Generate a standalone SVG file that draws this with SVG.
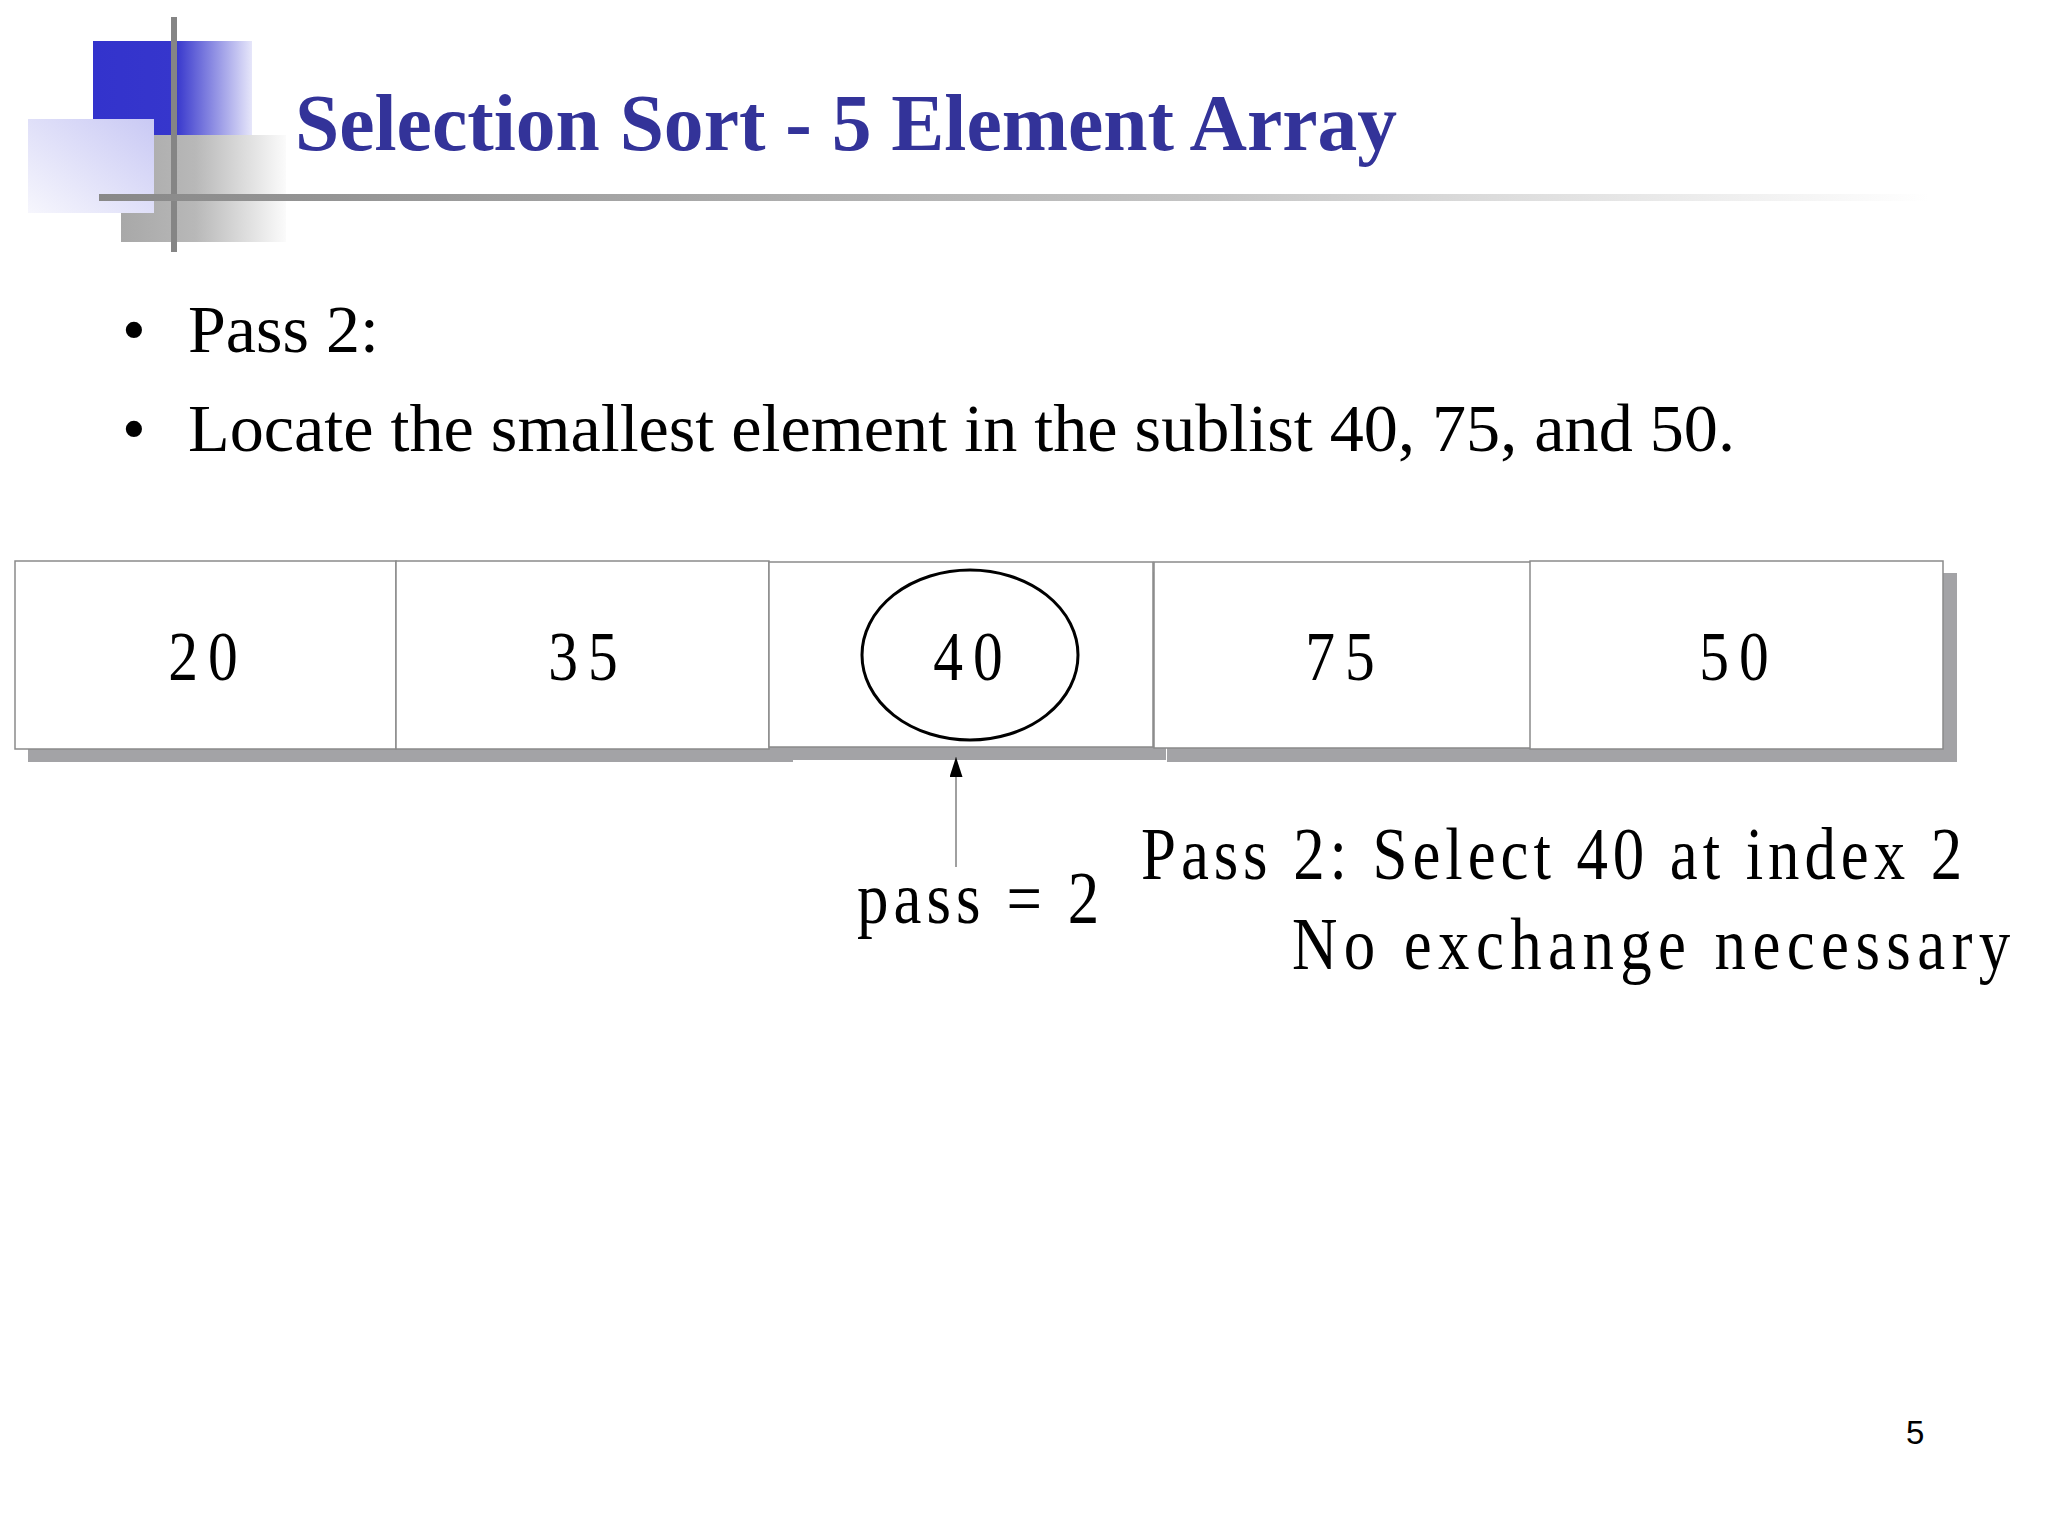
<svg xmlns="http://www.w3.org/2000/svg" width="2048" height="1536" viewBox="0 0 2048 1536">
  <defs>
    <linearGradient id="gBlue" x1="0" y1="0" x2="1" y2="0">
      <stop offset="0" stop-color="#3333cc"/>
      <stop offset="0.52" stop-color="#3636cc"/>
      <stop offset="1" stop-color="#e6e6fa"/>
    </linearGradient>
    <linearGradient id="gLav" x1="1" y1="0" x2="0" y2="1">
      <stop offset="0" stop-color="#c9c9f4"/>
      <stop offset="1" stop-color="#f6f6fd"/>
    </linearGradient>
    <linearGradient id="gGray" x1="0" y1="0" x2="1" y2="0">
      <stop offset="0" stop-color="#a8a8a8"/>
      <stop offset="0.45" stop-color="#b8b8b8"/>
      <stop offset="1" stop-color="#fbfbfb"/>
    </linearGradient>
    <linearGradient id="gLine" x1="0" y1="0" x2="1" y2="0">
      <stop offset="0" stop-color="#888888"/>
      <stop offset="0.6" stop-color="#c4c4c4"/>
      <stop offset="1" stop-color="#ffffff"/>
    </linearGradient>
    <marker id="arrowHead" viewBox="0 0 20 13" refX="20" refY="6.5" markerWidth="20" markerHeight="13" markerUnits="userSpaceOnUse" orient="auto">
      <path d="M0,0 L20,6.5 L0,13 Z" fill="#000000"/>
    </marker>
  </defs>
  <style>
    .title { font-family: "Liberation Serif", "Times New Roman", serif; font-weight: bold; font-size: 80px; fill: #333399; }
    .bullet { font-family: "Liberation Serif", "Times New Roman", serif; font-size: 68px; fill: #000000; }
    .cell { fill: #ffffff; stroke: #8a8a8a; stroke-width: 1.5; }
    .shadow { fill: #a3a3a6; stroke: none; }
    .num { font-family: "Liberation Serif", "Times New Roman", serif; font-size: 70px; fill: #000000; text-anchor: middle; }
    .lbl { font-family: "Liberation Serif", "Times New Roman", serif; font-size: 74px; fill: #000000; }
    .pg { font-family: "Liberation Sans", Arial, sans-serif; font-size: 33px; fill: #000000; }
  </style>

  <rect width="2048" height="1536" fill="#ffffff"/>

  <g id="decoration">
    <rect x="93" y="41" width="159" height="94" fill="url(#gBlue)"/>
    <rect x="121" y="135" width="165" height="107" fill="url(#gGray)"/>
    <rect x="28" y="119" width="126" height="94" fill="url(#gLav)"/>
    <rect x="171" y="17" width="6" height="235" fill="#858585"/>
    <rect x="99" y="194" width="1830" height="7" fill="url(#gLine)"/>
  </g>

  <g id="title">
    <text class="title" x="295" y="150" textLength="1102" lengthAdjust="spacingAndGlyphs">Selection Sort - 5 Element Array</text>
  </g>

  <g id="bullets">
    <text class="bullet" x="122" y="352" font-size="60">•</text>
    <text class="bullet" x="188" y="352">Pass 2:</text>
    <text class="bullet" x="122" y="451" font-size="60">•</text>
    <text class="bullet" x="188" y="451" textLength="1547" lengthAdjust="spacingAndGlyphs">Locate the smallest element in the sublist 40, 75, and 50.</text>
  </g>

  <g id="shadows">
    <rect class="shadow" x="28" y="574" width="381" height="188"/>
    <rect class="shadow" x="409" y="574" width="384" height="188"/>
    <rect class="shadow" x="782" y="572" width="384" height="188"/>
    <rect class="shadow" x="1167" y="573" width="377" height="189"/>
    <rect class="shadow" x="1544" y="573" width="413" height="189"/>
  </g>

  <g id="cell0">
    <rect class="cell" x="15" y="561" width="381" height="188"/>
    <text class="num" transform="translate(203,680) scale(0.85,1)" x="0" y="0" textLength="82" lengthAdjust="spacing">20</text>
  </g>
  <g id="cell1">
    <rect class="cell" x="396" y="561" width="373" height="188"/>
    <text class="num" transform="translate(583,680) scale(0.85,1)" x="0" y="0" textLength="82" lengthAdjust="spacing">35</text>
  </g>
  <g id="cell2">
    <rect class="cell" x="769" y="562" width="384" height="185"/>
    <ellipse cx="970" cy="655" rx="108" ry="85" fill="none" stroke="#000000" stroke-width="3"/>
    <text class="num" transform="translate(968,680) scale(0.85,1)" x="0" y="0" textLength="82" lengthAdjust="spacing">40</text>
  </g>
  <g id="cell3">
    <rect class="cell" x="1154" y="562" width="377" height="186"/>
    <text class="num" transform="translate(1340,680) scale(0.85,1)" x="0" y="0" textLength="82" lengthAdjust="spacing">75</text>
  </g>
  <g id="cell4">
    <rect class="cell" x="1530" y="561" width="413" height="188"/>
    <text class="num" transform="translate(1734,680) scale(0.85,1)" x="0" y="0" textLength="82" lengthAdjust="spacing">50</text>
  </g>

  <g id="connectors">
    <line x1="956" y1="867" x2="956" y2="757" stroke="#808080" stroke-width="1.5" marker-end="url(#arrowHead)"/>
  </g>

  <g id="labels">
    <text class="lbl" transform="translate(857,923) scale(0.85,1)" x="0" y="0" textLength="285" lengthAdjust="spacing">pass = 2</text>
    <text class="lbl" transform="translate(1141,879) scale(0.85,1)" x="0" y="0" textLength="966" lengthAdjust="spacing">Pass 2: Select 40 at index 2</text>
    <text class="lbl" transform="translate(1292,969) scale(0.85,1)" x="0" y="0" font-size="75" textLength="845" lengthAdjust="spacing">No exchange necessary</text>
  </g>

  <g id="pagenum">
    <text class="pg" x="1906" y="1444">5</text>
  </g>
</svg>
